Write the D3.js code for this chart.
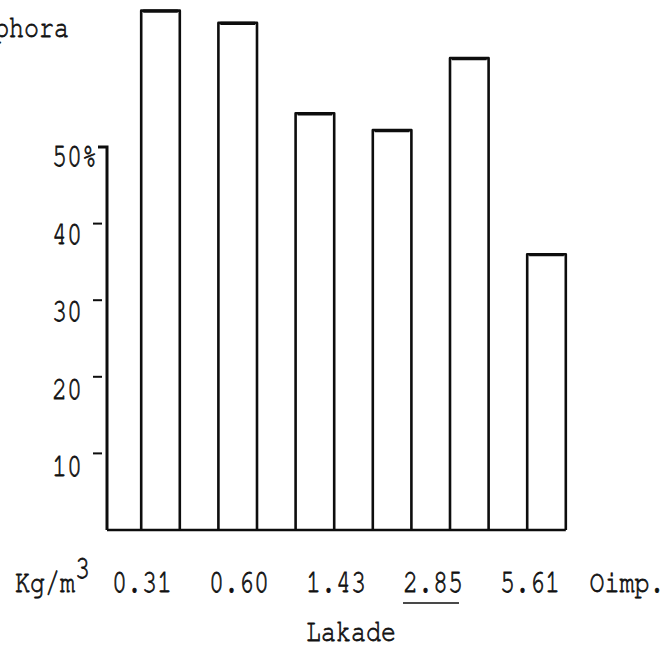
<!DOCTYPE html>
<html>
<head>
<meta charset="utf-8">
<script src="https://cdn.jsdelivr.net/npm/d3@7"></script>
<style>
  html, body { margin: 0; padding: 0; background: #fff; }
  svg { display: block; }
  text { font-family: "Nimbus Mono PS", "FreeMono", "Courier", "Liberation Mono", monospace; fill: #111; stroke: #111; stroke-width: 0.6px; }
</style>
</head>
<body>
<script>
// ---- data ----
const categories = ["0.31", "0.60", "1.43", "2.85", "5.61", "Oimp."];
const values = [67.8, 66.2, 54.4, 52.2, 61.6, 36.0];
const yTicks = [10, 20, 30, 40, 50];
const yTickLabels = ["10", "20", "30", "40", "50%"];
const underlined = ["2.85"];
const unitLabel = "Kg/m";
const unitSup = "3";
const xTitle = "Lakade";
const topTitle = "phora";

// ---- layout ----
const W = 667, H = 651;
const FS = 25, SY = 1.25;
const svg = d3.select("body").append("svg").attr("width", W).attr("height", H);

const axisX = 107;
const y = d3.scaleLinear().domain([0, 50]).range([530, 147]);
const yLab = d3.scaleLinear().domain([0, 50]).range([546, 158]);
const x = d3.scaleBand().domain(categories).range([axisX, 600])
  .paddingInner(0.5).paddingOuter(0.443).align(0.5);
const xLab = d3.scalePoint().domain(categories).range([142, 627]);

function typed(g, str, tx, ty, anchor) {
  return g.append("text")
    .attr("transform", `translate(${tx},${ty}) scale(1,${SY})`)
    .attr("text-anchor", anchor || "start")
    .attr("font-size", FS)
    .text(str);
}

const ink = "#0d0d0d";

// bars (outline only)
svg.append("g").selectAll("path").data(values).join("path")
  .attr("d", (d, i) => {
    const x0 = x(categories[i]), x1 = x0 + x.bandwidth();
    return `M${x0},${y(0)}V${y(d)}H${x1}V${y(0)}`;
  })
  .attr("fill", "none").attr("stroke", ink).attr("stroke-width", 2.6)
  .attr("stroke-linejoin", "round");

// thicker bar tops
svg.append("g").selectAll("line").data(values).join("line")
  .attr("x1", (d, i) => x(categories[i]) + 2)
  .attr("x2", (d, i) => x(categories[i]) + x.bandwidth() - 2)
  .attr("y1", d => y(d) + 0.5).attr("y2", d => y(d) + 0.5)
  .attr("stroke", ink).attr("stroke-width", 3.2);

// baseline
svg.append("line")
  .attr("x1", axisX).attr("x2", x(categories[categories.length - 1]) + x.bandwidth())
  .attr("y1", y(0)).attr("y2", y(0))
  .attr("stroke", ink).attr("stroke-width", 2.6);

// y axis line with top hook
svg.append("path")
  .attr("d", `M${axisX - 9},${y(50)}H${axisX}V${y(0)}`)
  .attr("fill", "none").attr("stroke", ink).attr("stroke-width", 3);

// y ticks (short dashes left of the axis)
svg.append("g").selectAll("line").data(yTicks.slice(0, 4)).join("line")
  .attr("x1", axisX - 14).attr("x2", axisX - 5)
  .attr("y1", d => y(d)).attr("y2", d => y(d))
  .attr("stroke", ink).attr("stroke-width", 2);

// y tick labels
const gy = svg.append("g");
yTicks.forEach((v, i) => typed(gy, yTickLabels[i], 52, yLab(v) + 8));

// x labels
const gx = svg.append("g");
const unit = gx.append("text")
  .attr("transform", `translate(15,592) scale(1,${SY})`)
  .attr("font-size", FS);
unit.append("tspan").text(unitLabel);
unit.append("tspan").attr("dy", -11).text(unitSup);

categories.forEach(c => {
  const t = typed(gx, c, xLab(c), 592, "middle");
  if (underlined.includes(c)) {
    const w = t.node().getComputedTextLength();
    gx.append("line")
      .attr("x1", xLab(c) - w / 2).attr("x2", xLab(c) + w / 2 - 4)
      .attr("y1", 603).attr("y2", 603)
      .attr("stroke", ink).attr("stroke-width", 1.6);
  }
});

typed(svg, xTitle, 351, 641, "middle");
typed(svg, topTitle, -6, 37, "start");
</script>
</body>
</html>
